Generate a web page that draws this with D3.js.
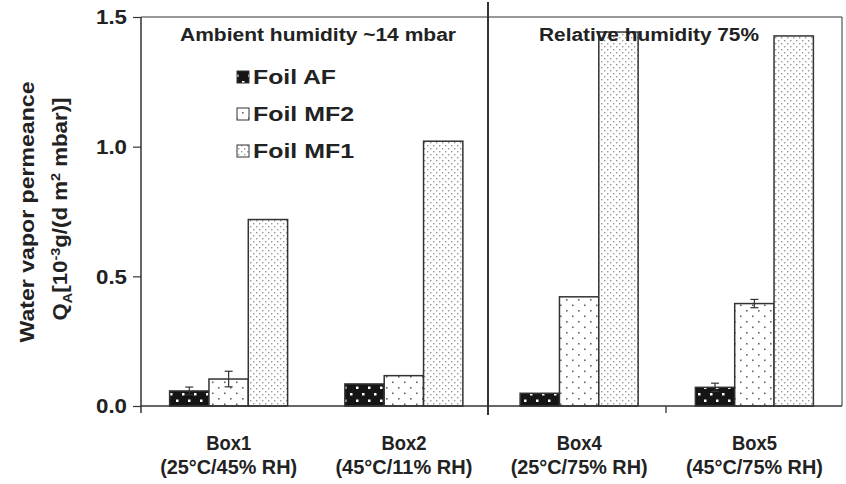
<!DOCTYPE html>
<html><head><meta charset="utf-8">
<script src="https://cdn.jsdelivr.net/npm/d3@7"></script>
<style>body{margin:0;background:#fff}svg{display:block}text{font-family:"Liberation Sans",Arial,sans-serif;font-weight:bold;fill:#222}</style>
</head><body><svg id="c" width="846" height="484"></svg>
<script>
const categories = ["Box1","Box2","Box4","Box5"];
const subLabels = ["(25°C/45% RH)","(45°C/11% RH)","(25°C/75% RH)","(45°C/75% RH)"];
const series = ["Foil AF","Foil MF2","Foil MF1"];
const valuesAF  = [0.058, 0.085, 0.049, 0.072];
const valuesMF2 = [0.104, 0.117, 0.421, 0.395];
const valuesMF1 = [0.719, 1.021, 1.442, 1.427];
const errAF  = [0.015, 0, 0, 0.016];
const errMF2 = [0.030, 0, 0, 0.016];
const errMF1 = [0, 0, 0, 0];
const yTicks = [0.0, 0.5, 1.0, 1.5];
const sectionTitles = ["Ambient humidity ~14 mbar","Relative humidity 75%"];

const values = [valuesAF, valuesMF2, valuesMF1];
const errs = [errAF, errMF2, errMF1];
const svg = d3.select("#c");
const L = 141, R = 842, T = 17, B = 406;
const x = d3.scaleBand().domain(categories).range([L, R]).paddingInner(0).paddingOuter(0);
const x1 = d3.scaleBand().domain(series).range([0, 118]).padding(0);
const y = d3.scaleLinear().domain([0, 1.5]).range([B, T]);

const defs = svg.append("defs");
const pAF = defs.append("pattern").attr("id","pAF").attr("patternUnits","userSpaceOnUse").attr("width",12).attr("height",13);
pAF.append("rect").attr("width",12).attr("height",13).attr("fill","#151515");
pAF.append("rect").attr("x",2).attr("y",3).attr("width",2.5).attr("height",2.5).attr("fill","#fff");
pAF.append("rect").attr("x",8).attr("y",9.5).attr("width",2.5).attr("height",2.5).attr("fill","#fff");
const pM2 = defs.append("pattern").attr("id","pM2").attr("patternUnits","userSpaceOnUse").attr("width",12).attr("height",11);
pM2.append("rect").attr("width",12).attr("height",11).attr("fill","#fff");
pM2.append("rect").attr("x",2).attr("y",2).attr("width",1.6).attr("height",1.6).attr("fill","#666");
pM2.append("rect").attr("x",8).attr("y",7.5).attr("width",1.6).attr("height",1.6).attr("fill","#666");
const pM1 = defs.append("pattern").attr("id","pM1").attr("patternUnits","userSpaceOnUse").attr("width",6).attr("height",6);
pM1.append("rect").attr("width",6).attr("height",6).attr("fill","#fff");
pM1.append("rect").attr("x",1).attr("y",1).attr("width",1.4).attr("height",1.4).attr("fill","#999");
pM1.append("rect").attr("x",4).attr("y",4).attr("width",1.4).attr("height",1.4).attr("fill","#999");
const fills = ["url(#pAF)","url(#pM2)","url(#pM1)"];

const line = (x1_,y1_,x2_,y2_,w)=>svg.append("line").attr("x1",x1_).attr("y1",y1_).attr("x2",x2_).attr("y2",y2_).attr("stroke","#333").attr("stroke-width",w||1.3);
line(L, T, R, T, 1);
line(R, T, R, B, 1);

series.forEach((s, si) => {
  svg.append("g").selectAll("rect").data(categories).join("rect")
    .attr("x", (c) => x(c) + (x.bandwidth()-118)/2 + x1(s))
    .attr("y", (c,i) => y(values[si][i]))
    .attr("width", x1.bandwidth())
    .attr("height", (c,i) => B - y(values[si][i]))
    .attr("fill", fills[si]).attr("stroke","#333").attr("stroke-width",1.5);
  categories.forEach((c,i)=>{
    const e = errs[si][i]; if(!e) return;
    const cx = x(c) + (x.bandwidth()-118)/2 + x1(s) + x1.bandwidth()/2;
    line(cx, y(values[si][i]+e), cx, y(values[si][i]-e), 1.2);
    line(cx-4, y(values[si][i]+e), cx+4, y(values[si][i]+e), 1.2);
    line(cx-4, y(values[si][i]-e), cx+4, y(values[si][i]-e), 1.2);
  });
});

line(L, T, L, 413, 1.5);
line(L, B, R, B, 1.5);
line(488, 2, 488, 415, 2);
line(666, B, 666, 413, 1.3);
const yAxis = d3.axisLeft(y).tickValues(yTicks).tickFormat(d3.format(".1f")).tickSize(8).tickPadding(6);
const ga = svg.append("g").attr("transform",`translate(${L},0)`).call(yAxis);
ga.select(".domain").remove();
ga.selectAll(".tick line").attr("stroke","#333").attr("stroke-width",1.2);
ga.selectAll(".tick text").style("font-size","21px").style("font-family","'Liberation Sans',Arial,sans-serif").style("font-weight","bold").attr("fill","#222")
  .attr("textLength",31).attr("lengthAdjust","spacingAndGlyphs");

categories.forEach((c,i)=>{
  const cx = x(c) + x.bandwidth()/2;
  svg.append("text").attr("x",cx).attr("y",450).attr("text-anchor","middle").style("font-size","20px")
    .attr("textLength",45).attr("lengthAdjust","spacingAndGlyphs").text(c);
  svg.append("text").attr("x",cx).attr("y",474).attr("text-anchor","middle").style("font-size","20px")
    .attr("textLength",137).attr("lengthAdjust","spacingAndGlyphs").text(subLabels[i]);
});

svg.append("text").attr("x",318).attr("y",41).attr("text-anchor","middle").style("font-size","18px")
  .attr("textLength",276).attr("lengthAdjust","spacingAndGlyphs").text(sectionTitles[0]);
svg.append("text").attr("x",649).attr("y",41).attr("text-anchor","middle").style("font-size","18px")
  .attr("textLength",220).attr("lengthAdjust","spacingAndGlyphs").text(sectionTitles[1]);

const legW = [83, 101, 101];
series.forEach((s,i)=>{
  const ly = 77 + i*37;
  svg.append("rect").attr("x",237).attr("y",ly-6).attr("width",12).attr("height",12).attr("fill",fills[i]).attr("stroke","#333").attr("stroke-width",1);
  svg.append("text").attr("x",253).attr("y",ly+7).style("font-size","20px")
    .attr("textLength",legW[i]).attr("lengthAdjust","spacingAndGlyphs").text(s);
});

const yt = svg.append("g").attr("transform","translate(34,212) rotate(-90)");
yt.append("text").attr("text-anchor","middle").style("font-size","21px")
  .attr("textLength",261).attr("lengthAdjust","spacingAndGlyphs").text("Water vapor permeance");
const t2 = yt.append("text").attr("x",3).attr("y",33).attr("text-anchor","middle").style("font-size","20px")
  .attr("textLength",223).attr("lengthAdjust","spacingAndGlyphs");
t2.append("tspan").text("Q");
t2.append("tspan").attr("dy",5).style("font-size","13px").text("A");
t2.append("tspan").attr("dy",-5).text("[10");
t2.append("tspan").attr("dy",-7).style("font-size","13px").text("-3");
t2.append("tspan").attr("dy",7).text("g/(d m");
t2.append("tspan").attr("dy",-7).style("font-size","13px").text("2");
t2.append("tspan").attr("dy",7).text(" mbar)]");
</script></body></html>
